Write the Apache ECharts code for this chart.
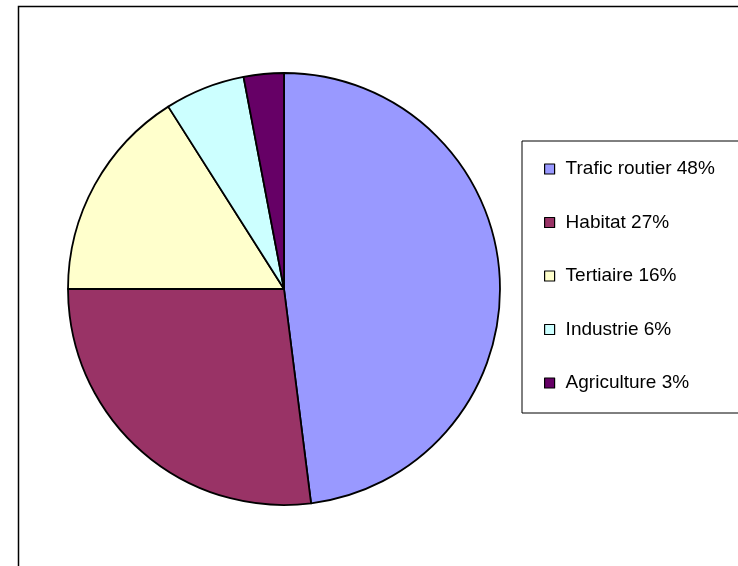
<!DOCTYPE html>
<html>
<head>
<meta charset="utf-8">
<script src="https://cdn.jsdelivr.net/npm/echarts@6/dist/echarts.min.js"></script>
<style>
  html, body { margin: 0; padding: 0; background: #fff; }
  #chart { width: 738px; height: 566px; }
</style>
</head>
<body>
<div id="chart"></div>
<script>
var sources = ['Trafic routier', 'Habitat', 'Tertiaire', 'Industrie', 'Agriculture'];
var shares = [48, 27, 16, 6, 3];
var colors = ['#9999FF', '#993366', '#FFFFCC', '#CCFFFF', '#660066'];

var myChart = echarts.init(document.getElementById('chart'));

var pieData = sources.map(function (s, i) {
  return { name: s, value: shares[i], itemStyle: { color: colors[i] } };
});

var option = {
  animation: false,
  graphic: [{
    type: 'rect',
    shape: { x: 18.5, y: 6.5, width: 900, height: 900 },
    style: { fill: 'none', stroke: '#000', lineWidth: 1.5 },
    z: 0
  }],
  legend: {
    orient: 'vertical',
    left: 522,
    top: 141,
    padding: [18, 200, 20, 22],
    borderColor: '#000',
    borderWidth: 1,
    itemWidth: 10,
    itemHeight: 10,
    itemGap: 33.5,
    icon: 'rect',
    itemStyle: { borderColor: '#000', borderWidth: 1.2 },
    textStyle: {
      fontFamily: 'Liberation Sans, Arial, sans-serif',
      fontSize: 19,
      lineHeight: 20,
      color: '#000',
      padding: [0, 0, 0, 6]
    },
    formatter: function (name) {
      return name + ' ' + shares[sources.indexOf(name)] + '%';
    },
    data: sources
  },
  series: [{
    type: 'pie',
    center: [284, 289],
    radius: 216,
    startAngle: 90,
    clockwise: true,
    label: { show: false },
    labelLine: { show: false },
    emphasis: { disabled: true },
    itemStyle: { borderColor: '#000', borderWidth: 1.8 },
    data: pieData
  }]
};

myChart.setOption(option);
</script>
</body>
</html>
